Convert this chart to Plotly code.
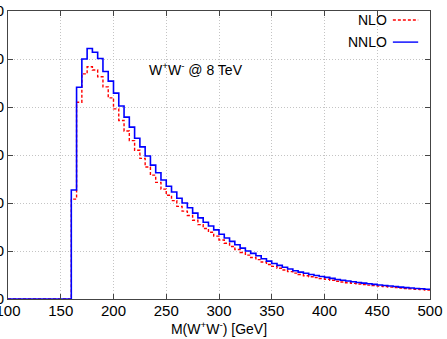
import plotly.graph_objects as go

# bin left edges of the M(WW) histogram, 5 GeV bins from 100 to 500
mass_edges = list(range(100, 500, 5))

# dsigma/dM per bin (bins 100-155 are empty)
nlo = [0] * 12 + [
    208, 410, 469, 484, 477, 463, 442, 419, 396, 372,
    350, 330, 310, 293, 275, 258, 243, 229, 216, 205,
    193, 183, 174, 164, 155, 147, 139, 131, 123, 116,
    109.5, 103, 97, 91.5, 86.5, 82, 77, 72, 68, 64,
    60.5, 57, 54, 51, 48.5, 46.5, 44.5, 42.5, 41, 39,
    37, 35.5, 34, 32.6, 31.4, 30.2, 29, 27.9, 26.8, 25.8,
    24.8, 23.8, 22.8, 22, 21.2, 20.4, 19.6, 18.8,
]
nnlo = [0] * 12 + [
    227, 441, 500, 522, 514, 501, 474, 454, 429, 402,
    379, 358, 335, 317, 298, 279, 263, 248, 235, 223,
    210, 200, 190, 179, 169, 160, 152, 144, 135, 127,
    120, 113, 106, 100, 95, 90, 84, 79, 74, 70,
    66, 62.5, 59, 56, 53.5, 51, 49, 47, 45, 43,
    40.6, 39, 37.5, 36, 34.4, 33, 31.7, 30.4, 29.2, 28,
    27, 26, 24.8, 23.8, 23, 22, 21.2, 20.4,
]

x_ticks = [100, 150, 200, 250, 300, 350, 400, 450, 500]
y_ticks = [0, 100, 200, 300, 400, 500, 600]

font = "Liberation Sans, Arial, sans-serif"

# close each histogram at the upper edge
x_steps = mass_edges + [500]

fig = go.Figure()
fig.add_trace(go.Scatter(
    x=x_steps, y=nlo + [nlo[-1]], mode="lines", line_shape="hv",
    line=dict(color="#ff0000", width=1.4, dash="3px,2px"), name="NLO",
    showlegend=False,
))
fig.add_trace(go.Scatter(
    x=x_steps, y=nnlo + [nnlo[-1]], mode="lines", line_shape="hv",
    line=dict(color="#0000ff", width=1.6), name="NNLO",
    showlegend=False,
))

# legend gnuplot-style: text on the left, sample on the right
legend_items = [("NLO", "#ff0000", "3px,2px", 0.969), ("NNLO", "#0000ff", "solid", 0.892)]
for label, color, dash, yp in legend_items:
    fig.add_annotation(x=0.902, y=yp, xref="paper", yref="paper", text=label,
                       showarrow=False, xanchor="right", yanchor="middle",
                       font=dict(family=font, size=14, color="black"))
    fig.add_shape(type="line", xref="paper", yref="paper", x0=0.912, x1=0.972,
                  y0=yp, y1=yp, line=dict(color=color, width=1.4, dash=dash))

fig.add_annotation(x=0.33, y=0.80, xref="paper", yref="paper",
                   text="W<sup>+</sup>W<sup>-</sup> @ 8 TeV", showarrow=False,
                   xanchor="left", yanchor="middle",
                   font=dict(family=font, size=14, color="black"))

axis_common = dict(
    showline=True, linecolor="#444", linewidth=1, mirror="allticks",
    ticks="inside", ticklen=5, tickcolor="#444",
    showgrid=True, gridcolor="#c4c4c4", gridwidth=1, griddash="1px,2px",
    zeroline=False, automargin=False, ticklabeloverflow="allow",
    tickfont=dict(family=font, size=15, color="black"),
)

fig.update_xaxes(range=[100, 500], tickvals=x_ticks, ticklabelstandoff=-2,
                 title=dict(text="M(W<sup>+</sup>W<sup>-</sup>) [GeV]", standoff=0,
                            font=dict(family=font, size=14, color="black")),
                 **axis_common)
fig.update_yaxes(range=[0, 600], tickvals=y_ticks, **axis_common)

fig.update_layout(
    width=447, height=339,
    margin=dict(l=8, r=17, t=11, b=40),
    plot_bgcolor="white", paper_bgcolor="white",
    template="none",
)

# page body has a default 8px margin; drop it so the figure fills the window
fig.write_html("out.html", config={"displayModeBar": False},
               post_script="document.body.style.margin='0px';")
